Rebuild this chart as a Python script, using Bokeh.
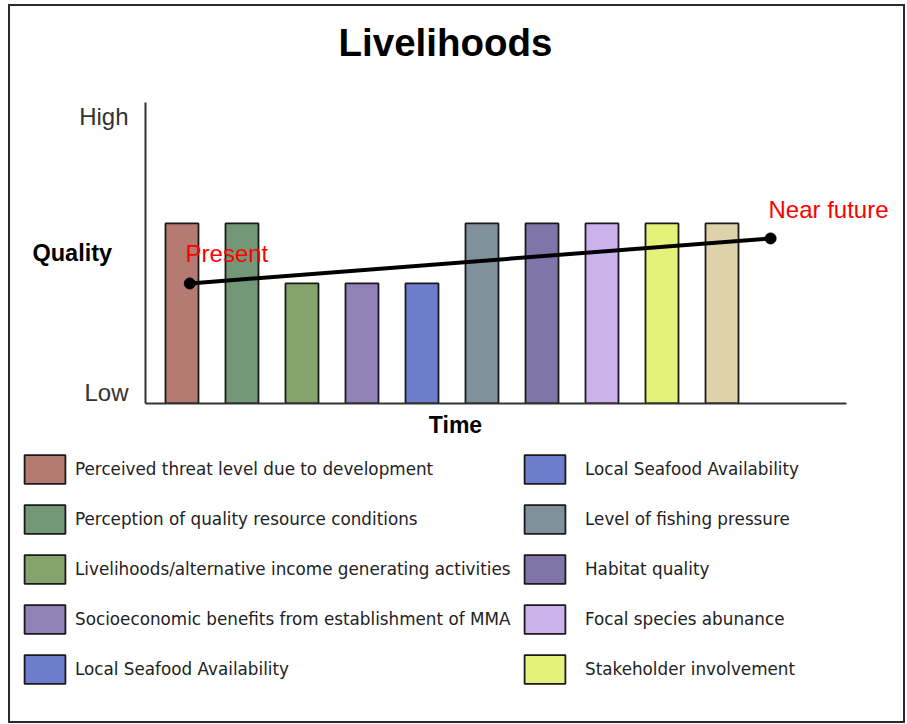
from bokeh.plotting import figure
from bokeh.layouts import column
from bokeh.models import (Range1d, FixedTicker, Label, Legend, LegendItem,
                          ColumnDataSource)
from bokeh.embed import file_html
from bokeh.resources import INLINE

# ---------------- data ----------------
chart_title = "Livelihoods"
x_title = "Time"
y_title = "Quality"
positions = [1, 2, 3, 4, 5, 6, 7, 8, 9, 10]
values = [6, 6, 4, 4, 4, 6, 6, 6, 6, 6]
colors = ["#b57a72", "#739878", "#85a46d", "#9381b9", "#6e7dcc",
          "#80919c", "#8174a8", "#cbb2ec", "#e4f27a", "#ddd2a9"]
legend_left_labels = [
    "Perceived threat level due to development",
    "Perception of quality resource conditions",
    "Livelihoods/alternative income generating activities",
    "Socioeconomic benefits from establishment of MMA",
    "Local Seafood Availability",
]
legend_left_index = [0, 1, 2, 3, 4]
legend_right_labels = [
    "Local Seafood Availability",
    "Level of fishing pressure",
    "Habitat quality",
    "Focal species abunance",
    "Stakeholder involvement",
]
legend_right_index = [4, 5, 6, 7, 8]
trend_x = [1.13, 10.81]
trend_y = [4.0, 5.5]
trend_labels = ["Present", "Near future"]
y_tick_values = [0.36, 9.73]
y_tick_labels = ["Low", "High"]

src = ColumnDataSource(dict(x=positions, top=values, color=colors))


def blank_figure(height, y0, y1):
    f = figure(width=893, height=height,
               x_range=Range1d(10, 903), y_range=Range1d(y1, y0),
               output_backend="svg", toolbar_location=None,
               x_axis_location=None, y_axis_location=None, min_border=0)
    f.frame_align = False
    f.outline_line_color = None
    f.xgrid.visible = False
    f.ygrid.visible = False
    return f


# ---------------- title strip ----------------
t = blank_figure(96, 6, 102)
t.add_layout(Label(x=445, y=42, text=chart_title, text_align="center",
                   text_baseline="middle", text_font="Liberation Sans",
                   text_font_style="bold", text_font_size="38.5px",
                   text_color="black"))

# ---------------- chart ----------------
p = figure(width=893, height=306,
           x_range=Range1d(0.392, 13.025), y_range=Range1d(0, 10.03),
           output_backend="svg", toolbar_location=None,
           min_border_left=135, min_border_right=0,
           min_border_top=0, min_border_bottom=5)
p.frame_align = False
p.outline_line_color = None
p.xgrid.visible = False
p.ygrid.visible = False

p.xaxis.bounds = (0.392, 12.075)
p.xaxis.ticker = FixedTicker(ticks=[])
p.xaxis.axis_line_width = 2
p.xaxis.axis_line_color = "#333333"
p.xaxis.major_tick_line_color = None
p.xaxis.minor_tick_line_color = None
p.xaxis.major_tick_out = 0
p.xaxis.minor_tick_out = 0
p.xaxis.major_label_standoff = 0

p.yaxis.ticker = FixedTicker(ticks=y_tick_values)
p.yaxis.major_label_overrides = {v: s for v, s in zip(y_tick_values, y_tick_labels)}
p.yaxis.axis_line_width = 2
p.yaxis.axis_line_color = "#333333"
p.yaxis.major_tick_line_color = None
p.yaxis.minor_tick_line_color = None
p.yaxis.major_tick_out = 0
p.yaxis.major_tick_in = 0
p.yaxis.minor_tick_out = 0
p.yaxis.major_label_standoff = 17
p.yaxis.major_label_text_font = "Liberation Sans"
p.yaxis.major_label_text_font_size = "24px"
p.yaxis.major_label_text_color = "#333333"
p.yaxis.axis_label = y_title
p.yaxis.axis_label_orientation = "horizontal"
p.yaxis.axis_label_standoff = -36
p.yaxis.axis_label_text_font = "Liberation Sans"
p.yaxis.axis_label_text_font_style = "bold"
p.yaxis.axis_label_text_font_size = "23.5px"
p.yaxis.axis_label_text_color = "black"

bars = p.vbar(x="x", top="top", bottom=0, width=0.55, source=src,
              fill_color="color", line_color="#1a1a1a", line_width=1.8)

p.line(trend_x, trend_y, line_width=4, line_color="black")
p.scatter(trend_x, trend_y, size=11, color="black")

p.add_layout(Label(x=trend_x[0] - 0.07, y=trend_y[0] + 1.0, text=trend_labels[0],
                   text_color="#ff0000", text_font="Liberation Sans",
                   text_font_size="24px", text_baseline="middle"))
p.add_layout(Label(x=trend_x[1] - 0.035, y=trend_y[1] + 0.967, text=trend_labels[1],
                   text_color="#ff0000", text_font="Liberation Sans",
                   text_font_size="24px", text_baseline="middle"))

# ---------------- x title + legend ----------------
q = blank_figure(313, 408, 721)
proxy = q.vbar(x="x", top="top", bottom=0, width=0.55, source=src,
               fill_color="color", line_color="#1a1a1a", line_width=1.8,
               visible=False)
q.add_layout(Label(x=455, y=424, text=x_title, text_align="center",
                   text_baseline="middle", text_font="Liberation Sans",
                   text_font_style="bold", text_font_size="23px",
                   text_color="black"))


def make_legend(labels, idx, loc, standoff):
    items = [LegendItem(label=lab, renderers=[proxy], index=i)
             for lab, i in zip(labels, idx)]
    return Legend(items=items, location=loc, glyph_width=51, glyph_height=36,
                  spacing=14, label_standoff=standoff, padding=0, margin=0,
                  border_line_color=None, background_fill_alpha=0,
                  label_text_font="DejaVu Sans", label_text_font_size="16.8px",
                  label_text_color="#222222")


q.add_layout(make_legend(legend_left_labels, legend_left_index, (9, 34), 5))
q.add_layout(make_legend(legend_right_labels, legend_right_index, (509, 34), 15))

layout = column(t, p, q, spacing=0)
layout.styles = {"border": "2px solid #2b2b2b", "margin-left": "8px",
                 "margin-top": "4px"}

open("out.html", "w").write(file_html(layout, INLINE))
